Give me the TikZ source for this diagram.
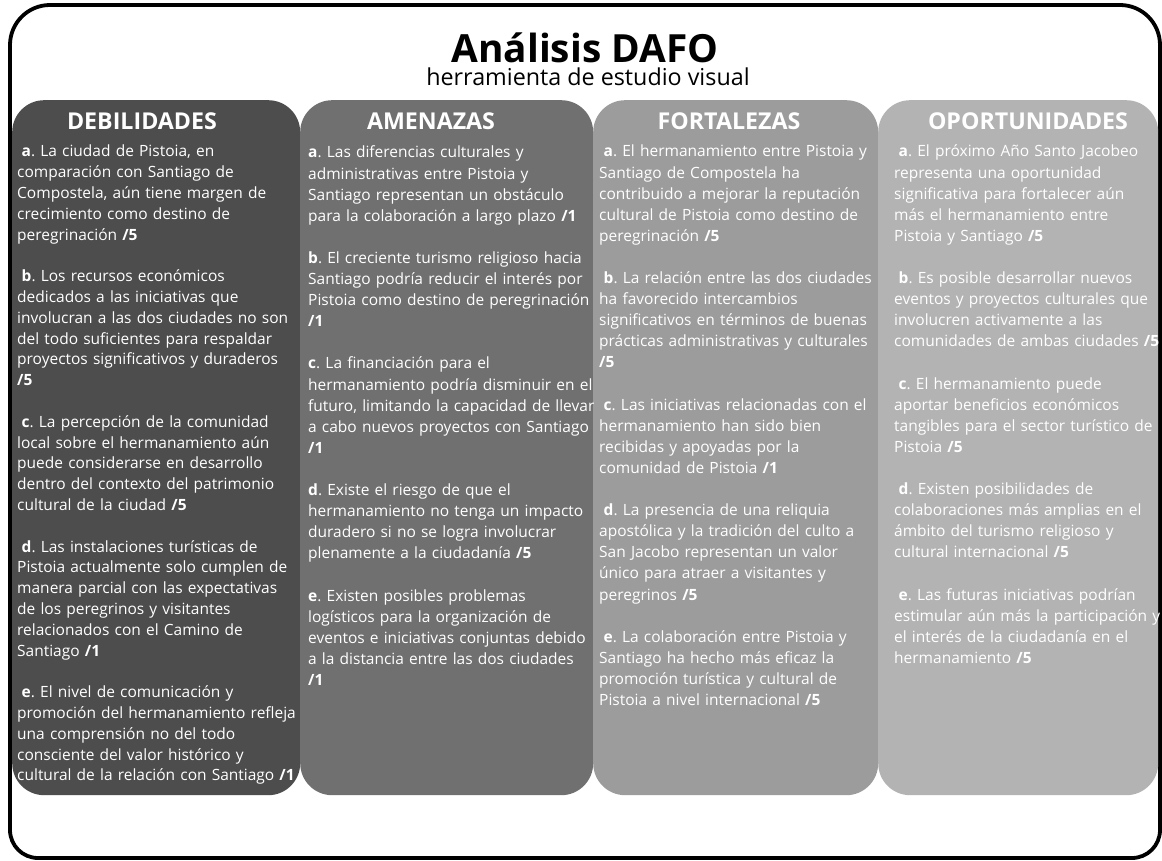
\documentclass[tikz,border=0pt]{standalone}
\usepackage{fontspec}
\setmainfont{Open Sans}
\frenchspacing
\definecolor{cdeb}{HTML}{4D4D4D}
\definecolor{came}{HTML}{707070}
\definecolor{cfor}{HTML}{9C9C9C}
\definecolor{copo}{HTML}{B3B3B3}
\tikzset{
  colbox/.style={rounded corners=32pt, draw=none, inner sep=0pt, anchor=north west},
  hdr/.style={font=\fontsize{23.2}{26}\selectfont\bfseries, text=white, anchor=base, inner sep=0pt},
  bodytxt/.style={font=\fontsize{15.5}{21.1}\selectfont, text=white, anchor=base west, inner sep=0pt, text width=320pt, align=left},
}
\newcommand{\lead}{\hspace*{4.5pt}}
\newcommand{\gap}{\\[21.1pt]}
\begin{document}
\begin{tikzpicture}[x=1pt,y=1pt]
\useasboundingbox (0,0) rectangle (1162,-861);
\fill[white] (0,0) rectangle (1162,-861);
% outer frame
\draw[line width=3.8pt] (10,-830) -- (10,-45) arc[start angle=180,end angle=90,radius=40]
  -- (1120,-5) arc[start angle=90,end angle=0,radius=40]
  -- (1160,-830) arc[start angle=0,end angle=-90,radius=28]
  -- (38,-858) arc[start angle=270,end angle=180,radius=28] -- cycle;
% title
\node[font=\fontsize{38.8}{40}\selectfont\bfseries, anchor=base, inner sep=0pt, text depth=0pt] (title) at (585,-63) {Análisis DAFO};
\node[font=\fontsize{23.3}{26}\selectfont, anchor=base, inner sep=0pt, text height=17pt] (sub) at (588,-86) {herramienta de estudio visual};
% columns
\node[colbox, fill=cdeb, minimum width=288pt, minimum height=695pt] (deb) at (12,-100) {};
\node[colbox, fill=came, minimum width=293pt, minimum height=695pt] (ame) at (300,-100) {};
\node[colbox, fill=cfor, minimum width=285pt, minimum height=695pt] (for) at (593,-100) {};
\node[colbox, fill=copo, minimum width=280pt, minimum height=695pt] (opo) at (878,-100) {};
% headers
\node[hdr] (debh) at (142,-129.5) {DEBILIDADES};
\node[hdr] (ameh) at (431,-129.5) {AMENAZAS};
\node[hdr] (forh) at (729,-129.5) {FORTALEZAS};
\node[hdr] (opoh) at (1028,-129.5) {OPORTUNIDADES};
% texts
\node[bodytxt, font=\fontsize{15.5}{20.8}\selectfont] (debt) at (17,-157) {%
\lead\textbf{a}. La ciudad de Pistoia, en\\
comparación con Santiago de\\
Compostela, aún tiene margen de\\
crecimiento como destino de\\
peregrinación \textbf{/5}\\[20.8pt]
\lead\textbf{b}. Los recursos económicos\\
dedicados a las iniciativas que\\
involucran a las dos ciudades no son\\
del todo suficientes para respaldar\\
proyectos significativos y duraderos\\
\textbf{/5}\\[20.8pt]
\lead\textbf{c}. La percepción de la comunidad\\
local sobre el hermanamiento aún\\
puede considerarse en desarrollo\\
dentro del contexto del patrimonio\\
cultural de la ciudad \textbf{/5}\\[20.8pt]
\lead\textbf{d}. Las instalaciones turísticas de\\
Pistoia actualmente solo cumplen de\\
manera parcial con las expectativas\\
de los peregrinos y visitantes\\
relacionados con el Camino de\\
Santiago \textbf{/1}\\[20.8pt]
\lead\textbf{e}. El nivel de comunicación y\\
promoción del hermanamiento refleja\\
una comprensión no del todo\\
consciente del valor histórico y\\
cultural de la relación con Santiago \textbf{/1}};
\node[bodytxt] (amet) at (308,-158) {%
\textbf{a}. Las diferencias culturales y\\
administrativas entre Pistoia y\\
Santiago representan un obstáculo\\
para la colaboración a largo plazo \textbf{/1}\gap
\textbf{b}. El creciente turismo religioso hacia\\
Santiago podría reducir el interés por\\
Pistoia como destino de peregrinación\\
\textbf{/1}\gap
\textbf{c}. La financiación para el\\
hermanamiento podría disminuir en el\\
futuro, limitando la capacidad de llevar\\
a cabo nuevos proyectos con Santiago\\
\textbf{/1}\gap
\textbf{d}. Existe el riesgo de que el\\
hermanamiento no tenga un impacto\\
duradero si no se logra involucrar\\
plenamente a la ciudadanía \textbf{/5}\gap
\textbf{e}. Existen posibles problemas\\
logísticos para la organización de\\
eventos e iniciativas conjuntas debido\\
a la distancia entre las dos ciudades\\
\textbf{/1}};
\node[bodytxt] (fort) at (599,-157) {%
\lead\textbf{a}. El hermanamiento entre Pistoia y\\
Santiago de Compostela ha\\
contribuido a mejorar la reputación\\
cultural de Pistoia como destino de\\
peregrinación \textbf{/5}\gap
\lead\textbf{b}. La relación entre las dos ciudades\\
ha favorecido intercambios\\
significativos en términos de buenas\\
prácticas administrativas y culturales\\
\textbf{/5}\gap
\lead\textbf{c}. Las iniciativas relacionadas con el\\
hermanamiento han sido bien\\
recibidas y apoyadas por la\\
comunidad de Pistoia \textbf{/1}\gap
\lead\textbf{d}. La presencia de una reliquia\\
apostólica y la tradición del culto a\\
San Jacobo representan un valor\\
único para atraer a visitantes y\\
peregrinos \textbf{/5}\gap
\lead\textbf{e}. La colaboración entre Pistoia y\\
Santiago ha hecho más eficaz la\\
promoción turística y cultural de\\
Pistoia a nivel internacional \textbf{/5}};
\node[bodytxt] (opot) at (894,-157) {%
\lead\textbf{a}. El próximo Año Santo Jacobeo\\
representa una oportunidad\\
significativa para fortalecer aún\\
más el hermanamiento entre\\
Pistoia y Santiago \textbf{/5}\gap
\lead\textbf{b}. Es posible desarrollar nuevos\\
eventos y proyectos culturales que\\
involucren activamente a las\\
comunidades de ambas ciudades \textbf{/5}\gap
\lead\textbf{c}. El hermanamiento puede\\
aportar beneficios económicos\\
tangibles para el sector turístico de\\
Pistoia \textbf{/5}\gap
\lead\textbf{d}. Existen posibilidades de\\
colaboraciones más amplias en el\\
ámbito del turismo religioso y\\
cultural internacional \textbf{/5}\gap
\lead\textbf{e}. Las futuras iniciativas podrían\\
estimular aún más la participación y\\
el interés de la ciudadanía en el\\
hermanamiento \textbf{/5}};
\end{tikzpicture}
\end{document}
